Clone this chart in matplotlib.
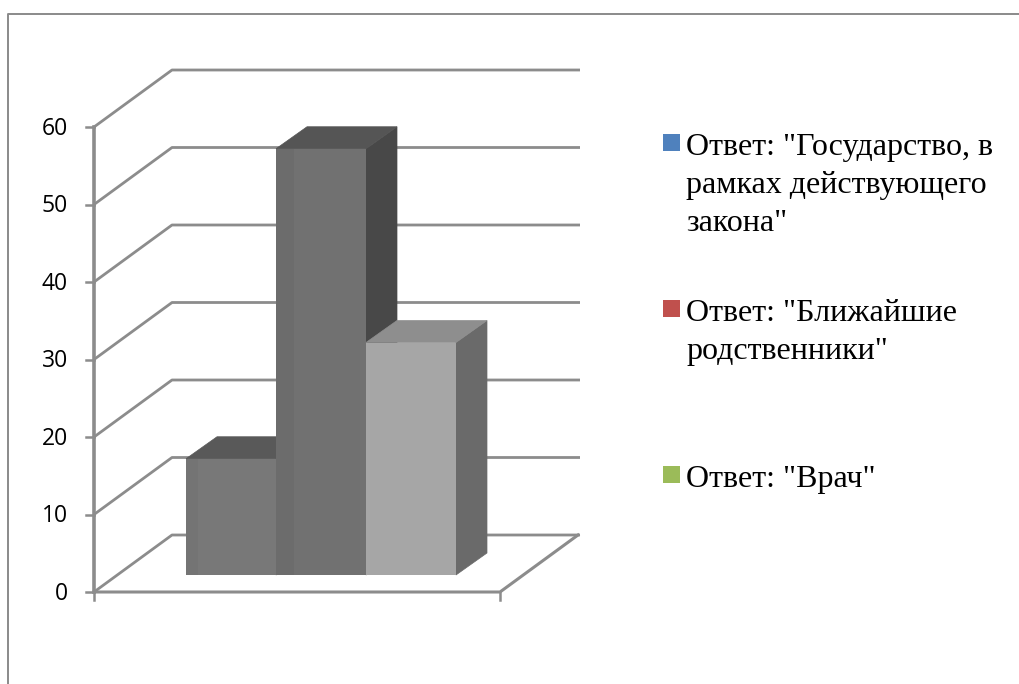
import matplotlib
matplotlib.use("Agg")
import matplotlib.pyplot as plt
from matplotlib.patches import Polygon, Rectangle

# --- chart values ---
Y_TICKS = [0, 10, 20, 30, 40, 50, 60]
BAR_VALUES = [15, 55, 30]
FRONT_COLORS = ["#787878", "#717171", "#a6a6a6"]
STRIP_COLORS = ["#747474", "#6c6c6c", "#a6a6a6"]
TOP_COLORS = ["#595959", "#555555", "#8e8e8e"]
SIDE_COLORS = ["#505050", "#484848", "#6a6a6a"]
LEGEND_LABELS = ['Ответ: "Государство, в\nрамках действующего\nзакона"',
                 'Ответ: "Ближайшие\nродственники"',
                 'Ответ: "Врач"']
LEGEND_COLORS = ["#4f81bd", "#c0504d", "#9bbb59"]
LEGEND_TOPS = [134, 300, 466]

W, H = 1019, 684
GRID = "#8c8c8c"

fig = plt.figure(figsize=(W / 100, H / 100), dpi=100)

# axes box is the front plane of the 3d chart (pixels 94..500, 127..592)
ax = fig.add_axes([94 / W, 1 - 592 / H, 406 / W, 465 / H])
ax.set_xlim(0, 406)
ax.set_ylim(0, 60)
ax.axis("off")

unit = 465 / 60
wall_dx, wall_dy = 78, 57 / unit
bar_dx, bar_dy = 31, 22 / unit
bar_w = 90
bar_x0 = 92
bar_y0 = 17 / unit


def poly(points, color, z):
    ax.add_patch(Polygon(points, closed=True, facecolor=color, edgecolor=color,
                         linewidth=0.5, zorder=z, clip_on=False))


# walls and grid
for v in Y_TICKS:
    ax.plot([0, wall_dx, 486], [v, v + wall_dy, v + wall_dy], color=GRID, lw=2.0,
            zorder=1, clip_on=False, solid_capstyle="butt", solid_joinstyle="round")
    ax.plot([-8, 0], [v, v], color=GRID, lw=1.8, zorder=2, clip_on=False)
    ax.text(-26, v - 0.2, str(v), ha="right", va="center", fontsize=16.5,
            family="Open Sans", color="black")
ax.plot([0, 0], [0, 60], color=GRID, lw=2.6, zorder=2, clip_on=False)
ax.plot([0, 406, 484], [0, 0, wall_dy], color=GRID, lw=2.2, zorder=2, clip_on=False)
ax.plot([0, 0], [0, -8 / unit], color=GRID, lw=1.8, zorder=2, clip_on=False)
ax.plot([406, 406], [0, -8 / unit], color=GRID, lw=1.8, zorder=2, clip_on=False)

# bars, painted left to right so later ones cover the earlier sides
for i, val in enumerate(BAR_VALUES):
    x0 = bar_x0 + i * bar_w
    x1 = x0 + bar_w
    top = bar_y0 + val
    z = 3 + i
    poly([(x1, bar_y0), (x1 + bar_dx, bar_y0 + bar_dy),
          (x1 + bar_dx, top + bar_dy), (x1, top)], SIDE_COLORS[i], z)
    poly([(x0, top), (x0 + bar_dx, top + bar_dy),
          (x1 + bar_dx, top + bar_dy), (x1, top)], TOP_COLORS[i], z)
    ax.add_patch(Rectangle((x0, bar_y0), bar_w, val, facecolor=FRONT_COLORS[i],
                           edgecolor="none", zorder=z, clip_on=False))
    # slightly darker band on the left of the front face
    ax.add_patch(Rectangle((x0, bar_y0), 12 + 6 * (i > 0), val, facecolor=STRIP_COLORS[i],
                           edgecolor="none", zorder=z, clip_on=False))

# outer frame, only left and top are visible
fig.add_artist(plt.Line2D([8 / W, 8 / W, 1], [0, 1 - 14 / H, 1 - 14 / H],
                          color="#8a8a8a", lw=1.4))

# legend
for label, color, top in zip(LEGEND_LABELS, LEGEND_COLORS, LEGEND_TOPS):
    fig.add_artist(Rectangle((663 / W, 1 - (top + 17) / H), 17 / W, 17 / H,
                             transform=fig.transFigure, facecolor=color, edgecolor="none"))
    fig.text(686 / W, 1 - (top - 1) / H, label, ha="left", va="top", fontsize=23,
             family="Liberation Serif", color="black", linespacing=1.4)

fig.savefig("out.png", dpi=100)
